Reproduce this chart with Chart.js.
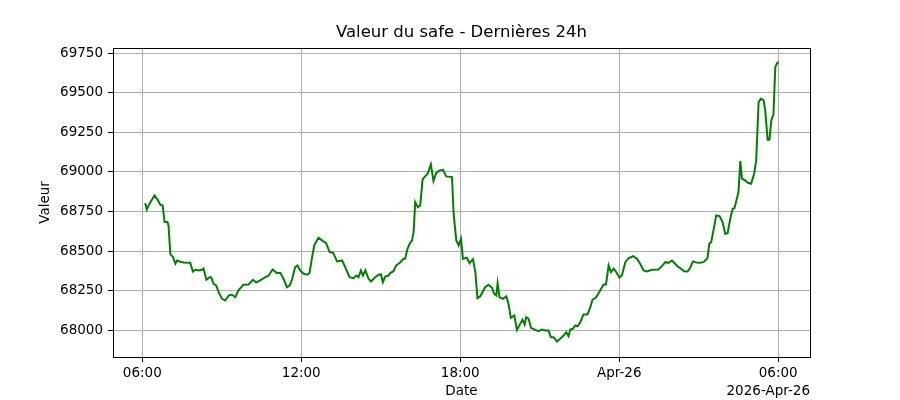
<!DOCTYPE html>
<html>
<head>
<meta charset="utf-8">
<script src="https://cdn.jsdelivr.net/npm/chart.js@4/dist/chart.umd.min.js"></script>
<style>
html,body{margin:0;padding:0;background:#fff;}
#wrap{width:900px;height:400px;}
</style>
</head>
<body>
<div id="wrap"><canvas id="c" width="900" height="400"></canvas></div>
<script>
// Hours elapsed since 06:00 (Apr 25)
const hours = [0.09,0.13,0.17,0.30,0.46,0.57,0.68,0.77,0.84,0.95,0.99,1.06,1.16,1.25,1.31,1.43,1.56,1.81,1.91,2.00,
2.12,2.25,2.31,2.42,2.54,2.60,2.69,2.79,2.88,3.01,3.13,3.26,3.38,3.51,3.63,3.82,4.01,4.18,4.30,4.45,
4.64,4.77,4.92,5.08,5.21,5.33,5.46,5.56,5.65,5.77,5.86,5.96,6.09,6.22,6.31,6.40,6.49,6.65,6.82,6.94,
7.07,7.20,7.35,7.54,7.66,7.82,7.97,8.08,8.16,8.25,8.33,8.42,8.54,8.63,8.79,8.92,9.01,9.08,9.17,9.29,
9.36,9.48,9.58,9.74,9.86,9.92,10.01,10.09,10.18,10.24,10.30,10.40,10.49,10.58,10.65,10.77,10.89,10.99,11.09,11.22,
11.35,11.47,11.69,11.75,11.85,11.94,12.03,12.10,12.25,12.35,12.48,12.57,12.65,12.75,12.94,13.07,13.20,13.28,13.36,13.41,
13.48,13.61,13.74,13.82,13.91,14.04,14.14,14.26,14.35,14.43,14.49,14.58,14.67,14.83,14.95,15.08,15.21,15.33,15.42,15.52,
15.65,15.77,15.90,16.00,16.09,16.15,16.25,16.34,16.43,16.53,16.65,16.80,16.91,16.99,17.13,17.28,17.41,17.50,17.60,17.69,
17.79,17.89,18.01,18.10,18.23,18.35,18.52,18.67,18.79,18.92,19.05,19.23,19.48,19.61,19.74,19.86,19.99,20.11,20.21,20.34,
20.45,20.58,20.68,20.78,20.91,21.06,21.18,21.33,21.40,21.47,21.58,21.66,21.79,21.90,22.00,22.09,22.19,22.28,22.35,22.44,
22.50,22.57,22.63,22.75,22.86,22.98,23.09,23.17,23.26,23.35,23.45,23.51,23.60,23.67,23.74,23.82,23.89,23.95,24.00];

// Safe value (same order as hours)
const values = [68802,68795,68764,68808,68852,68827,68794,68789,68684,68684,68663,68480,68463,68421,68442,68434,68429,68427,68372,68383,
68379,68383,68391,68320,68336,68336,68295,68284,68242,68200,68189,68221,68227,68210,68253,68289,68290,68320,68303,68316,
68336,68347,68385,68362,68364,68326,68273,68284,68320,68400,68410,68379,68358,68352,68362,68453,68537,68585,68564,68551,
68494,68491,68436,68442,68400,68336,68330,68347,68336,68379,68347,68379,68326,68309,68336,68352,68354,68305,68341,68347,
68362,68374,68410,68431,68453,68453,68516,68547,68568,68621,68810,68778,68789,68953,68968,68989,69048,68943,68993,69010,
69014,68972,68968,68737,68568,68537,68579,68453,68459,68425,68450,68368,68204,68215,68273,68289,68270,68232,68221,68299,
68210,68200,68215,68169,68080,68095,68004,68042,68068,68038,68084,68074,68017,68004,67996,68006,68000,68000,67958,67958,
67931,67948,67968,67989,67964,68006,68011,68032,68027,68052,68101,68101,68147,68194,68210,68253,68290,68290,68410,68368,
68390,68368,68333,68347,68431,68456,68469,68453,68421,68379,68372,68383,68385,68406,68431,68427,68442,68421,68404,68389,
68374,68372,68396,68436,68429,68427,68431,68456,68547,68557,68652,68726,68722,68684,68610,68614,68705,68768,68772,68831,
68873,69069,68958,68947,68932,68926,68989,69073,69441,69463,69452,69389,69204,69204,69326,69362,69662,69684,69695];

const xTickHours = [0, 6, 12, 18, 24];
const xTickLabels = ['06:00', '12:00', '18:00', 'Apr-26', '06:00'];
const yTickValues = [68000, 68250, 68500, 68750, 69000, 69250, 69500, 69750];

const titleText = 'Valeur du safe - Dernières 24h';
const xAxisLabel = 'Date';
const yAxisLabel = 'Valeur';
const offsetText = '2026-Apr-26';

const FONT = '"DejaVu Sans", sans-serif';

const points = hours.map((h, i) => ({x: h, y: values[i]}));

const textPlugin = {
  id: 'mplText',
  afterDatasetsDraw(chart) {
    const ctx = chart.ctx;
    const a = chart.chartArea;
    ctx.save();
    ctx.strokeStyle = '#000';
    ctx.lineWidth = 1;
    ctx.strokeRect(Math.round(a.left) + 0.5, Math.round(a.top) + 0.5, Math.round(a.right - a.left), Math.round(a.bottom - a.top));
    ctx.restore();
  },
  afterDraw(chart) {
    const ctx = chart.ctx;
    const a = chart.chartArea;
    const cx = (a.left + a.right) / 2;
    ctx.save();
    ctx.fillStyle = '#000';
    ctx.textBaseline = 'middle';
    ctx.textAlign = 'center';
    ctx.font = '16.5px ' + FONT;
    ctx.fillText(titleText, cx, 33);
    ctx.font = '13.5px ' + FONT;
    ctx.fillText(xAxisLabel, cx, 391);
    ctx.textAlign = 'right';
    ctx.fillText(offsetText, a.right, 391);
    ctx.translate(45, (a.top + a.bottom) / 2);
    ctx.rotate(-Math.PI / 2);
    ctx.textAlign = 'center';
    ctx.fillText(yAxisLabel, 0, 0);
    ctx.restore();
  }
};

new Chart(document.getElementById('c'), {
  type: 'line',
  data: {
    datasets: [{
      data: points,
      borderColor: '#008000',
      borderWidth: 2,
      pointRadius: 0,
      tension: 0,
      fill: false
    }]
  },
  options: {
    responsive: false,
    animation: false,
    devicePixelRatio: 1,
    layout: {padding: {top: 48, right: 90, bottom: 0, left: 0}},
    plugins: {legend: {display: false}, tooltip: {enabled: false}, title: {display: false}},
    scales: {
      x: {
        type: 'linear',
        min: -1.105,
        max: 25.2,
        afterBuildTicks(scale) { scale.ticks = xTickHours.map(v => ({value: v})); },
        afterFit(scale) { scale.height = 43; },
        ticks: {
          autoSkip: false,
          maxRotation: 0,
          color: '#000',
          padding: 3,
          font: {family: FONT, size: 13.5},
          callback(v) { const i = xTickHours.indexOf(v); return i >= 0 ? xTickLabels[i] : ''; }
        },
        grid: {color: '#b0b0b0', lineWidth: 1, tickColor: '#000', tickLength: 5, drawTicks: true},
        border: {display: true, color: '#000', width: 1}
      },
      y: {
        type: 'linear',
        min: 67833,
        max: 69782,
        afterBuildTicks(scale) { scale.ticks = yTickValues.map(v => ({value: v})); },
        afterFit(scale) { scale.width = 113; },
        ticks: {
          color: '#000',
          padding: 5,
          font: {family: FONT, size: 13.5},
          callback(v) { return String(v); }
        },
        grid: {color: '#b0b0b0', lineWidth: 1, tickColor: '#000', tickLength: 5, drawTicks: true},
        border: {display: true, color: '#000', width: 1}
      }
    }
  },
  plugins: [textPlugin]
});
</script>
</body>
</html>
